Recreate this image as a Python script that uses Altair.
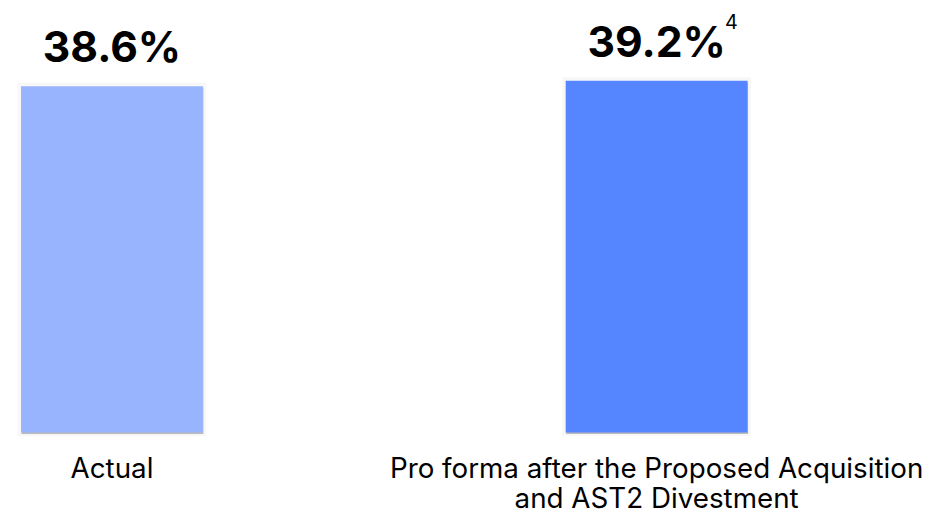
import altair as alt
import pandas as pd

categories = ["Actual", "Pro forma after the Proposed Acquisition|and AST2 Divestment"]
values = [38.6, 39.2]
value_labels = ["38.6%", "39.2%"]
footnotes = ["", "4"]
colors = ["#99B4FF", "#5586FF"]

df = pd.DataFrame({"cat": categories, "val": values, "lab": value_labels, "sup": footnotes})

x = alt.X("cat:N", sort=categories, title=None,
          scale=alt.Scale(paddingInner=0.6661, paddingOuter=0.0239, round=False),
          axis=alt.Axis(labelAngle=0, domain=False, ticks=False, labelFontSize=28,
                        labelFont="Inter", labelColor="#000000", labelPadding=23,
                        labelLimit=0, labelOverlap=False, labelLineHeight=31,
                        labelExpr="split(datum.value, '|')"))
y = alt.Y("val:Q", scale=alt.Scale(domain=[0, 46.41], nice=False, zero=True), axis=None)

base = alt.Chart(df)

halo = base.mark_bar(fill=None, stroke="#000000", strokeOpacity=0.03, strokeWidth=7).encode(x=x, y=y)
drop = base.mark_bar(color="#8a8a8a", opacity=0.55, yOffset=1.5, xOffset=0.5).encode(x=x, y=y)

bars = base.mark_bar().encode(
    x=x, y=y,
    color=alt.Color("cat:N", scale=alt.Scale(domain=categories, range=colors), legend=None),
)

labels = base.mark_text(font="Inter", fontWeight="bold", fontSize=43, baseline="alphabetic",
                        align="center", dy=-24, color="#000000").encode(x=x, y=y, text="lab:N")

sups = base.mark_text(font="Inter", fontSize=20, baseline="alphabetic", align="left",
                      dx=69, dy=-52, color="#000000").encode(x=x, y=y, text="sup:N")

chart = (halo + drop + bars + labels + sups).properties(
    width=759, height=420,
    autosize=alt.AutoSizeParams(type="none"),
    padding={"left": 0, "top": 6, "right": 184, "bottom": 82},
).configure_view(stroke=None)

chart.save("out.html", embed_options={"renderer": "svg", "actions": False})
